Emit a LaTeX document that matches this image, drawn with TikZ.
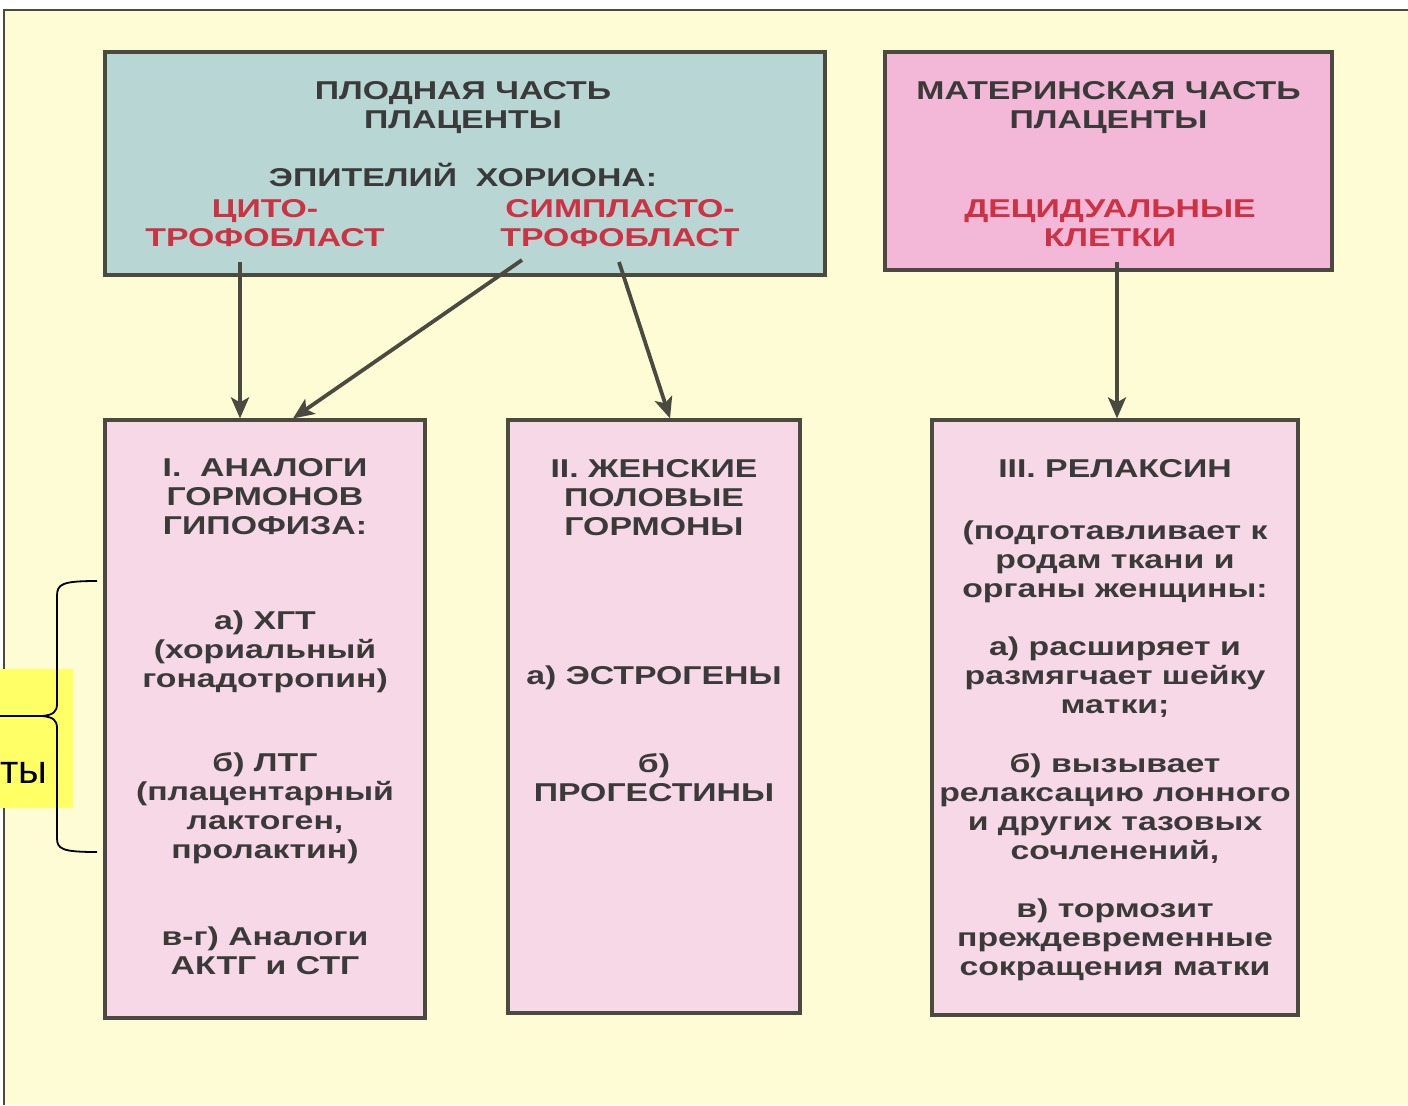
\documentclass[tikz,border=0pt]{standalone}
\usepackage{fontspec}
\setmainfont{Liberation Sans}
\newfontfamily\widefont{Liberation Sans}[FakeStretch=1.31]
\usepackage{tikz}
\usetikzlibrary{arrows.meta, positioning}

\definecolor{bgyellow}{RGB}{253,252,212}
\definecolor{fetalblue}{RGB}{184,214,212}
\definecolor{matpink}{RGB}{243,184,215}
\definecolor{grpink}{RGB}{247,216,230}
\definecolor{framegray}{RGB}{74,74,64}
\definecolor{txtgray}{RGB}{58,58,58}
\definecolor{txtred}{RGB}{204,50,68}
\definecolor{notebox}{RGB}{255,255,102}

\begin{document}
\begin{tikzpicture}[x=0.5pt, y=-0.5pt,
        part/.style={draw=framegray, line width=1.6pt, inner sep=0pt},
        group/.style={part, fill=grpink},
        txt/.style={font={\widefont\bfseries\fontsize{12.9}{14.5}\selectfont}, text=txtgray, align=center, inner sep=0pt},
        redtxt/.style={txt, text=txtred, anchor=north},
        link/.style={-{Stealth[length=10.5pt,width=9pt,inset=2.5pt]}, line width=1.9pt, draw=framegray},
        brace/.style={black, line width=0.9pt}]
        \useasboundingbox (0,0) rectangle (1408,1105);
        \fill[bgyellow] (4,10) rectangle (1408,1105);
        \draw[framegray, line width=1pt] (4,1105) -- (4,10) -- (1408,10);

        % source parts
        \node[part, fill=fetalblue, minimum width=360pt, minimum height=111.5pt] (plod) at (465,163.5) {};
        \node[part, fill=matpink, minimum width=223.5pt, minimum height=109pt]   (mat)  at (1108.5,161) {};
        \node[txt] (plod_t) [below=15.5pt of plod.north, xshift=-1pt] {ПЛОДНАЯ ЧАСТЬ\\ПЛАЦЕНТЫ\\[14.5pt]ЭПИТЕЛИЙ\ \ ХОРИОНА:};
        \node[txt] (mat_t)  [below=15.5pt of mat.north]  {МАТЕРИНСКАЯ ЧАСТЬ\\ПЛАЦЕНТЫ};
        \node[redtxt] (cyto)  at (265,199)  {ЦИТО-\\ТРОФОБЛАСТ};
        \node[redtxt] (simp)  at (620,199)  {СИМПЛАСТО-\\ТРОФОБЛАСТ};
        \node[redtxt] (decid) at (1110,199) {ДЕЦИДУАЛЬНЫЕ\\КЛЕТКИ};

        % hormone groups
        \node[group, minimum width=160pt, minimum height=299pt]   (g_1) at (265,719)    {};
        \node[group, minimum width=146pt, minimum height=296.5pt] (g_2) at (654,716.5)  {};
        \node[group, minimum width=183pt, minimum height=297.5pt] (g_3) at (1115,717.5) {};

        \node[txt] (g_1t) [below=20pt of g_1.north] {I.\ \ АНАЛОГИ\\ГОРМОНОВ\\ГИПОФИЗА:\\[33pt]
            а) ХГТ\\(хориальный\\гонадотропин)\\[27.5pt]
            б) ЛТГ\\(плацентарный\\лактоген,\\пролактин)\\[29pt]
            в-г) Аналоги\\АКТГ и СТГ};
        \node[txt] (g_2t) [below=20.5pt of g_2.north] {II. ЖЕНСКИЕ\\ПОЛОВЫЕ\\ГОРМОНЫ\\[60pt]
            а) ЭСТРОГЕНЫ\\[29.5pt]
            б)\\ПРОГЕСТИНЫ};
        \node[txt] (g_3t) [below=20.5pt of g_3.north] {III. РЕЛАКСИН\\[16.5pt]
            (подготавливает к\\родам ткани и\\органы женщины:\\[14.5pt]
            а) расширяет и\\размягчает шейку\\матки;\\[15pt]
            б) вызывает\\релаксацию лонного\\и других тазовых\\сочленений,\\[14.5pt]
            в) тормозит\\преждевременные\\сокращения матки};

        \coordinate (s_1) at (240,262);
        \coordinate (s_2) at (522,260);
        \coordinate (s_3) at (619,262);
        \coordinate (s_4) at (1117,262);

        \draw[link] (s_1) -- (s_1 |- g_1.north);
        \draw[link] (s_2) -- ([xshift=14pt]g_1.north);
        \draw[link] (s_3) -- ([xshift=8pt]g_2.north);
        \draw[link] (s_4) -- (s_4 |- g_3.north);

        % note on the left
        \node[fill=notebox, minimum width=36.5pt, minimum height=69.5pt, inner sep=0pt] (note) at (36.5,738.5) {};
        \node[font=\fontsize{20}{24}\selectfont, anchor=base east, inner sep=0pt] (note_t) at (48,783) {ты};
        \draw[brace] (97,581) .. controls (62,581) and (57,584) .. (57,596) -- (57,704)
            .. controls (57,712) and (53,715) .. (42,716) -- (0,716)
            (42,716) .. controls (53,717) and (57,720) .. (57,728) -- (57,838)
            .. controls (57,849) and (62,852) .. (97,852);
\end{tikzpicture}
\end{document}
